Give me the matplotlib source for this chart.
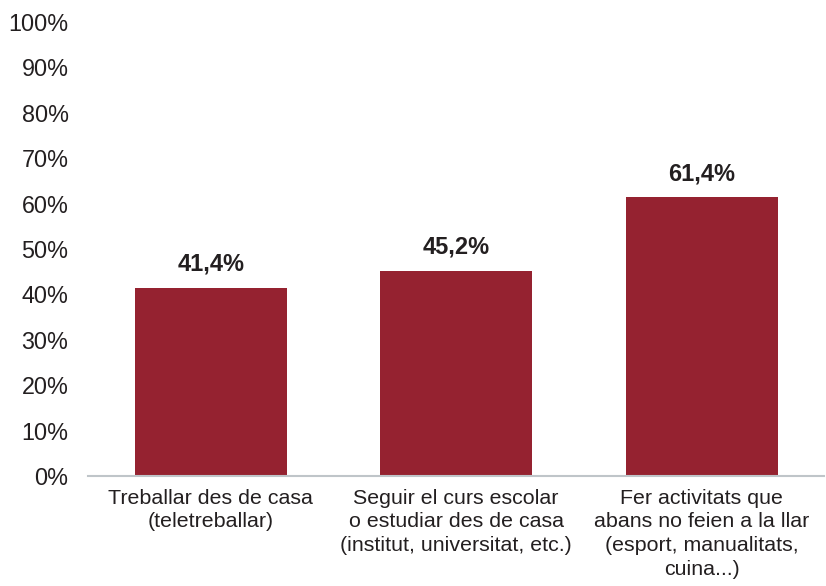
import matplotlib.pyplot as plt
from matplotlib.ticker import FuncFormatter

categories = [
    "Treballar des de casa\n(teletreballar)",
    "Seguir el curs escolar\no estudiar des de casa\n(institut, universitat, etc.)",
    "Fer activitats que\nabans no feien a la llar\n(esport, manualitats,\ncuina...)",
]
values = [41.4, 45.2, 61.4]
yticks = list(range(0, 101, 10))

bar_color = "#952230"
text_color = "#231f20"

plt.rcParams['font.family'] = ['Liberation Sans', 'DejaVu Sans']

fig = plt.figure(figsize=(8.26, 5.86), dpi=100)
ax = fig.add_axes([0.1065, 0.1877, 0.8915, 0.7747])

x = range(len(values))
bars = ax.bar(x, values, width=0.62, color=bar_color, zorder=2)

for xi, v in zip(x, values):
    ax.annotate(f"{v:.1f}%".replace(".", ","), (xi, v), xytext=(0, 17),
                textcoords="offset points", ha="center", va="center",
                fontsize=17, fontweight="bold", color=text_color)

ax.set_xlim(-0.5, len(values) - 0.5)
ax.set_ylim(0, 100)
ax.set_yticks(yticks)
ax.yaxis.set_major_formatter(FuncFormatter(lambda v, p: f"{int(v)}%"))
ax.set_xticks(list(x))
ax.set_xticklabels(categories, fontsize=15.4, color=text_color, linespacing=1.32)
ax.tick_params(axis="y", length=0, pad=14, labelsize=16.8, labelcolor=text_color)
ax.tick_params(axis="x", length=0, pad=9)

for side in ["top", "right", "left"]:
    ax.spines[side].set_visible(False)
ax.spines["bottom"].set_color("#bfc5c9")
ax.spines["bottom"].set_linewidth(1.5)

fig.savefig("out.png", dpi=100)
